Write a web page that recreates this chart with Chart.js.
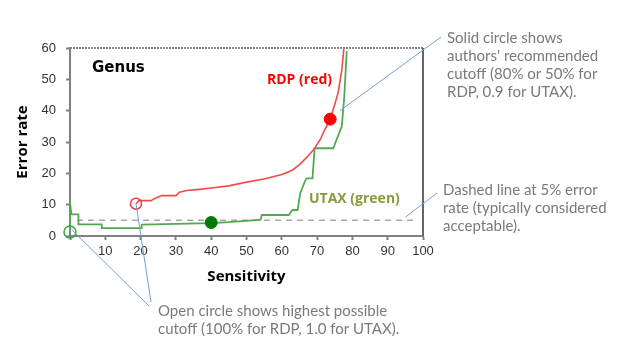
<!DOCTYPE html>
<html>
<head>
<meta charset="utf-8">
<script src="https://cdn.jsdelivr.net/npm/chart.js@4.4.1/dist/chart.umd.min.js"></script>
<style>
  body { margin: 0; background: #fff; }
  #wrap { width: 618px; height: 358px; }
</style>
</head>
<body>
<div id="wrap"><canvas id="errChart" width="618" height="358"></canvas></div>
<script>
// RDP (red) curve: sensitivity vs error rate
const rdpSens = [18.7, 19.5, 20, 23, 24, 26, 30, 31, 33, 36, 40, 45, 50, 55, 60, 63, 65, 67, 69, 71, 72, 73.7, 75, 76, 77, 77.6];
const rdpErr  = [10.3, 11.3, 11.3, 11.3, 12, 12.9, 12.9, 14, 14.5, 14.8, 15.3, 16, 17.2, 18.2, 19.6, 21, 22.8, 25, 27.5, 31, 33.5, 37.3, 42, 46, 53, 60];

// UTAX (green) curve
const utaxSens = [0, 0, 0.4, 2.4, 2.4, 9, 9, 20.3, 20.3, 30, 40, 45, 50, 54, 54.3, 62, 63, 64.5, 65.2, 66.5, 67, 68.7, 69.3, 74.6, 75.5, 77, 77.7, 78.4];
const utaxErr  = [1.3, 10.8, 6.9, 6.9, 3.7, 3.7, 2.5, 2.5, 3.6, 3.9, 4.1, 4.4, 4.8, 5.2, 6.7, 6.7, 8.3, 8.3, 13.6, 17.3, 18.4, 18.4, 28, 28, 30.7, 35, 44.5, 59];

// recommended cutoffs (solid) and highest possible cutoffs (open)
const rdpCutoff = [73.7, 37.3];
const utaxCutoff = [40, 4.3];
const rdpOpen = [18.7, 10.3];
const utaxOpen = [0, 1.3];

// 5% acceptable error line
const refSens = [2, 98];
const refErr = [5, 5];

const toPts = (xs, ys) => xs.map((x, i) => ({ x: x, y: ys[i] }));

const annotations = {
  id: 'annotations',
  afterDraw(chart) {
    const c = chart.ctx;
    const xs = chart.scales.x, ys = chart.scales.y;
    const a = chart.chartArea;
    c.save();

    // top and right frame
    c.strokeStyle = '#8a8a8a';
    c.lineWidth = 2;
    c.setLineDash([2, 1]);
    c.beginPath();
    c.moveTo(a.left, a.top);
    c.lineTo(a.right, a.top);
    c.stroke();
    c.setLineDash([]);
    c.strokeStyle = '#666';
    c.beginPath();
    c.moveTo(a.right, a.top);
    c.lineTo(a.right, a.bottom);
    c.stroke();

    // labels inside plot
    c.font = 'bold 15px "DejaVu Sans"';
    c.fillStyle = '#000';
    c.textBaseline = 'middle';
    c.fillText('Genus', a.left + 22, a.top + 20);
    c.font = 'bold 14px "Open Sans"';
    c.fillStyle = '#ff0000';
    c.fillText('RDP (red)', a.left + 197, a.top + 32);
    c.fillStyle = '#8a9a38';
    c.fillText('UTAX (green)', a.left + 239, a.top + 151);

    // leader lines
    c.strokeStyle = '#6f9fd8';
    c.lineWidth = 1;
    const line = (x1, y1, x2, y2) => {
      c.beginPath(); c.moveTo(x1, y1); c.lineTo(x2, y2); c.stroke();
    };
    line(441, 37, xs.getPixelForValue(76.5), ys.getPixelForValue(40));
    line(437, 193, xs.getPixelForValue(95), ys.getPixelForValue(6));
    line(149, 306, xs.getPixelForValue(utaxOpen[0]) + 2, ys.getPixelForValue(utaxOpen[1]) - 2);
    line(151, 302, xs.getPixelForValue(rdpOpen[0]), ys.getPixelForValue(rdpOpen[1]));

    // notes
    c.font = '15px Lato';
    c.fillStyle = '#7a7a7a';
    c.textBaseline = 'middle';
    const note = (lines, x, y) => lines.forEach((t, i) => c.fillText(t, x, y + i * 18));
    note(['Solid circle shows', "authors' recommended", 'cutoff (80% or 50% for', 'RDP, 0.9 for UTAX).'], 447, 38);
    note(['Dashed line at 5% error', 'rate (typically considered', 'acceptable).'], 443, 190);
    note(['Open circle shows highest possible', 'cutoff (100% for RDP, 1.0 for UTAX).'], 158, 311);
    c.restore();
  }
};

new Chart(document.getElementById('errChart'), {
  type: 'scatter',
  data: {
    datasets: [
      { data: toPts(refSens, refErr), order: 3, showLine: true, borderColor: '#a8a8a8', borderWidth: 1.5, borderDash: [6, 5], pointRadius: 0 },
      { data: toPts(rdpSens, rdpErr), order: 2, showLine: true, borderColor: '#f24a4d', borderWidth: 1.6, pointRadius: 0 },
      { data: toPts(utaxSens, utaxErr), order: 2, showLine: true, borderColor: '#52a94f', borderWidth: 1.8, pointRadius: 0 },
      { data: [{ x: rdpCutoff[0], y: rdpCutoff[1] }], order: 0, pointRadius: 6, pointBackgroundColor: '#ff0000', pointBorderColor: '#ff0000' },
      { data: [{ x: utaxCutoff[0], y: utaxCutoff[1] }], order: 0, pointRadius: 6, pointBackgroundColor: '#007a00', pointBorderColor: '#007a00' },
      { data: [{ x: rdpOpen[0], y: rdpOpen[1] }], order: 0, pointRadius: 5.5, pointBackgroundColor: 'rgba(255,255,255,0)', pointBorderColor: '#ee3b3b', pointBorderWidth: 1.5 },
      { data: [{ x: utaxOpen[0], y: utaxOpen[1] }], order: 0, pointRadius: 6, pointBackgroundColor: 'rgba(255,255,255,0)', pointBorderColor: '#3aa53a', pointBorderWidth: 1.5 }
    ]
  },
  options: {
    responsive: false,
    animation: false,
    clip: false,
    layout: { padding: { left: 0, top: 48, right: 195, bottom: 72 } },
    plugins: { legend: { display: false }, tooltip: { enabled: false } },
    scales: {
      x: {
        type: 'linear', min: 0, max: 100,
        afterFit: (s) => { s.height = 50; },
        border: { color: '#808080', width: 2 },
        grid: { drawOnChartArea: false, tickLength: 4, color: '#808080', tickWidth: 2 },
        ticks: {
          stepSize: 10, padding: 4, color: '#333', font: { size: 13, family: '"Liberation Sans"' },
          callback: (v) => (v === 0 ? '' : v)
        },
        title: { display: true, text: 'Sensitivity', color: '#000', font: { size: 15, weight: 'bold', family: '"Open Sans"' }, padding: { top: 0, bottom: 0 } }
      },
      y: {
        type: 'linear', min: 0, max: 60,
        afterFit: (s) => { s.width = 70; },
        border: { color: '#808080', width: 2 },
        grid: { drawOnChartArea: false, tickLength: 4, color: '#808080', tickWidth: 2 },
        ticks: {
          stepSize: 5, padding: 10, color: '#333', font: { size: 13, family: '"Liberation Sans"' },
          callback: (v) => (v % 10 === 0 ? v : '')
        },
        title: { display: true, text: 'Error rate', color: '#000', font: { size: 15, weight: 'bold', family: '"Open Sans"' }, padding: { top: 14, bottom: 0 } }
      }
    }
  },
  plugins: [annotations]
});
</script>
</body>
</html>
